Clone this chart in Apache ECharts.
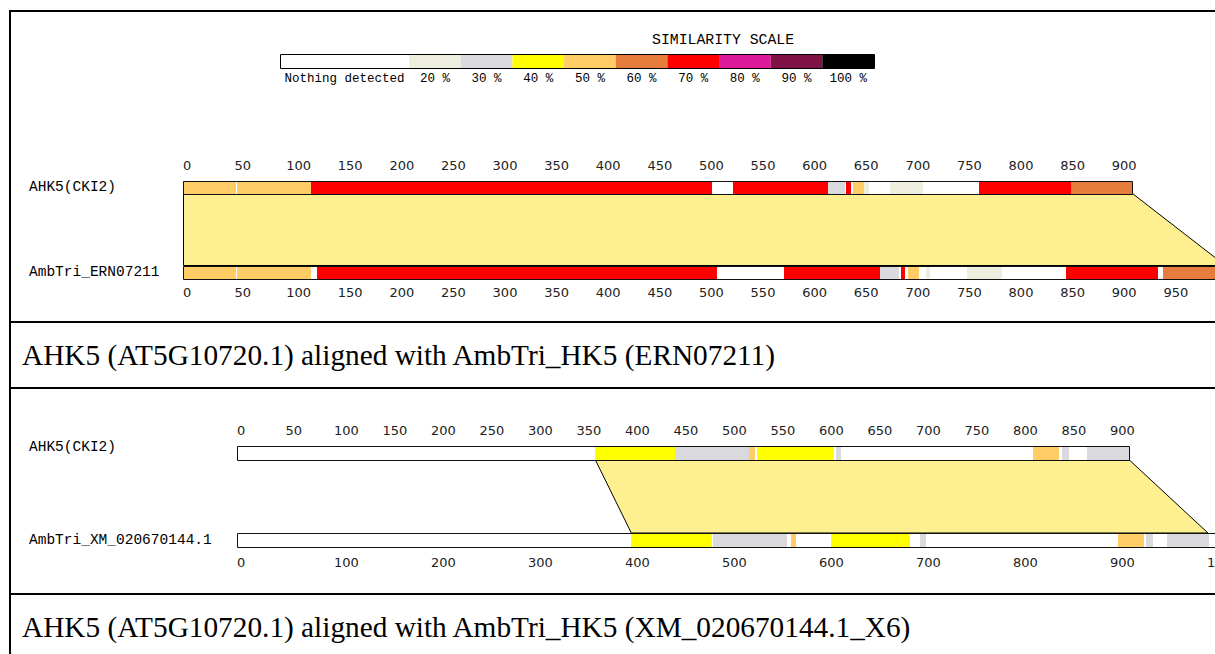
<!DOCTYPE html>
<html><head><meta charset="utf-8">
<script src="https://cdn.jsdelivr.net/npm/echarts@6/dist/echarts.min.js"></script>
<style>html,body{margin:0;padding:0;background:#fff}#c{width:1215px;height:654px}</style>
</head><body><div id="c"></div>
<script>
// ---- similarity scale ----
const scaleLabels = ['Nothing detected','20 %','30 %','40 %','50 %','60 %','70 %','80 %','90 %','100 %'];
const scaleSpans  = [2.5,1,1,1,1,1,1,1,1,1];
const scaleColors = ['#FFFFFF','#EEEEDF','#D9D9DE','#FFFF00','#FFCC66','#E77D3C','#FF0000','#DD1A99','#7F1346','#000000'];
const scaleTitle = 'SIMILARITY SCALE';

// ---- panel 1 : AHK5 vs ERN07211 ----
const p1Names   = ['AHK5(CKI2)','AmbTri_ERN07211'];
const p1Lengths = [920, 1012];
const p1Align   = [0, 920, 0, 1010];           // query start, query end, subject start, subject end
const p1Query   = [[0,51,4],[52,124.5,4],[124.5,513,6],[533,625.3,6],[625.3,641.5,2],[642,647,6],[649,660,4],[660,665,1],[685,717,1],[771.6,860,6],[860,920,5]];
const p1Subject = [[0,51,4],[52,124,4],[129.5,517.7,6],[582.7,675.4,6],[675.4,693.8,2],[695.4,700,6],[702.9,713.5,4],[720,724,1],[760,793.6,1],[856,944.5,6],[950,1012,5]];
const p1TickStep = [50, 50];

// ---- panel 2 : AHK5 vs XM_020670144.1 ----
const p2Names   = ['AHK5(CKI2)','AmbTri_XM_020670144.1'];
const p2Lengths = [920, 1020];
const p2Align   = [369, 920, 406, 1001];
const p2Query   = [[369,451.5,3],[451.5,528,2],[528,534,4],[536,615.5,3],[617.5,622.5,2],[820.8,847.4,4],[850.2,858,2],[876,920,2]];
const p2Subject = [[406,489.4,3],[491,566.7,2],[570.8,576.3,4],[612.4,693.8,3],[704,710,2],[908.6,935.4,4],[936.8,944.6,2],[958.4,1002.4,2]];
const p2TickStep = [50, 100];

const captions = ['AHK5 (AT5G10720.1) aligned with AmbTri_HK5 (ERN07211)',
                  'AHK5 (AT5G10720.1) aligned with AmbTri_HK5 (XM_020670144.1_X6)'];

// ---------------------------------------------------------------
const W = 1215;
const chart = echarts.init(document.getElementById('c'), null, {renderer:'svg'});
const MONO = 'Liberation Mono, DejaVu Sans Mono, monospace';
const TICKFONT = 'DejaVu Sans, Verdana, sans-serif';
const SERIF = 'Liberation Serif, Times New Roman, serif';

const panels = [
  {names:p1Names, lengths:p1Lengths, align:p1Align, q:p1Query, s:p1Subject, steps:p1TickStep,
   left:183, pxPer:1.032, top:187, height:85, half:6.5, marginTop:15, marginBottom:14, lift:0},
  {names:p2Names, lengths:p2Lengths, align:p2Align, q:p2Query, s:p2Subject, steps:p2TickStep,
   left:237, pxPer:0.970, top:453, height:87, half:7, marginTop:16, marginBottom:15.5, lift:12}
];

const grid = [{left:280, top:54, width:594, height:14, outerBoundsMode:'none', containLabel:false}];
const xAxis = [{gridIndex:0, type:'value', min:0, max:scaleSpans.reduce((a,b)=>a+b,0), show:false}];
const yAxis = [{gridIndex:0, type:'value', min:0, max:1, show:false}];
const series = [];

// legend scale
let acc = 0;
const scaleData = scaleSpans.map((w,i)=>{ const d=[acc, acc+w, i]; acc+=w; return d; });
const scaleTotal = acc;
series.push({
  type:'custom', xAxisIndex:0, yAxisIndex:0, encode:{x:[0,1]}, z:3,
  data:scaleData,
  renderItem:(params, api)=>{
    const i = api.value(2);
    const a = api.coord([api.value(0),1]), b = api.coord([api.value(1),0]);
    const kids = [
      {type:'rect', shape:{x:a[0], y:a[1], width:b[0]-a[0], height:b[1]-a[1]}, style:{fill:scaleColors[i], stroke:null}},
      {type:'text', style:{text:scaleLabels[i], x:(a[0]+b[0])/2, y:b[1]+11, align:'center', verticalAlign:'middle',
        textAlign:'center', textVerticalAlign:'middle', fontFamily:MONO, fontSize:12.5, fill:'#000'}}
    ];
    if (i === scaleLabels.length-1) {
      const s0 = api.coord([0,1]), s1 = api.coord([scaleTotal,0]);
      kids.push({type:'rect', shape:{x:Math.round(s0[0])+0.5, y:Math.round(s0[1])+0.5, width:Math.round(s1[0]-s0[0]), height:Math.round(s1[1]-s0[1])},
        style:{fill:'none', stroke:'#000', lineWidth:1}});
    }
    return {type:'group', children:kids};
  }
});

panels.forEach((p, pi)=>{
  const g = pi+1;
  const gridW = W - p.left;              // grid runs to the right edge of the page
  const axMax = gridW / p.pxPer;         // axis value at the right edge
  grid.push({left:p.left, top:p.top, width:gridW, height:p.height, outerBoundsMode:'none', containLabel:false});
  const xi = xAxis.length;
  [0,1].forEach(row=>{
    const step = p.steps[row];
    xAxis.push({gridIndex:g, type:'value', position: row===0?'top':'bottom', min:0, max:axMax, interval:step,
      axisLine:{show:false, onZero:false}, axisTick:{show:false}, splitLine:{show:false},
      axisLabel:{show:true, align:'left', margin: row===0?p.marginTop:p.marginBottom, color:'#222',
        fontFamily:TICKFONT, fontSize:13, showMaxLabel:true, showMinLabel:true, hideOverlap:false,
        formatter:(v)=> (v<=p.lengths[row] && Math.abs(v/step - Math.round(v/step))<1e-6) ? String(v) : ''}});
  });
  const yi = yAxis.length;
  yAxis.push({gridIndex:g, type:'category', data:p.names, inverse:true, boundaryGap:false,
    axisLine:{show:false}, axisTick:{show:false}, splitLine:{show:false},
    axisLabel:{interval:0, align:'left', margin:p.left-29, color:'#000', fontFamily:MONO, fontSize:14.5,
      formatter:(v, idx)=> (idx===0 && p.lift) ? '{up|'+v+'}' : v,
      rich:{up:{padding:[0,0,p.lift,0], fontFamily:MONO, fontSize:14.5, color:'#000'}}}});

  const half = p.half;
  // trapezoid (aligned region)
  series.push({type:'custom', xAxisIndex:xi, yAxisIndex:yi, encode:{x:[0,1,2,3], y:4}, z:1, clip:false,
    data:[[p.align[0], p.align[1], p.align[2], p.align[3], 0]],
    renderItem:(params, api)=>{
      const a = api.coord([api.value(0),0]), b = api.coord([api.value(1),0]);
      const c = api.coord([api.value(3),1]), d = api.coord([api.value(2),1]);
      return {type:'polygon', shape:{points:[[a[0]+0.5,a[1]+half],[b[0],b[1]+half],[c[0],c[1]-half],[d[0]+0.5,d[1]-half]]},
        style:{fill:'#FEEF90', stroke:'#000', lineWidth:1}};
    }});
  // track base (white)
  const baseData = p.lengths.map((L,row)=>[0, L, 0, row]);
  const rectFor = (api)=>{
    const r = api.value(3);
    const a = api.coord([api.value(0), r]), b = api.coord([api.value(1), r]);
    return {x:Math.round(a[0]), y:Math.round(a[1]-half), w:Math.round(b[0])-Math.round(a[0]), h:Math.round(2*half)};
  };
  series.push({type:'custom', xAxisIndex:xi, yAxisIndex:yi, encode:{x:[0,1], y:3}, z:2, clip:false, data:baseData,
    renderItem:(params, api)=>{ const r=rectFor(api);
      return {type:'rect', shape:{x:r.x, y:r.y, width:r.w, height:r.h}, style:{fill:'#fff', stroke:null}}; }});
  // similarity segments
  const segData = p.q.map(s=>[s[0], s[1], s[2], 0]).concat(p.s.map(s=>[s[0], s[1], s[2], 1]));
  series.push({type:'custom', xAxisIndex:xi, yAxisIndex:yi, encode:{x:[0,1], y:3}, z:3, clip:false, data:segData,
    renderItem:(params, api)=>{ const r=rectFor(api);
      return {type:'rect', shape:{x:r.x, y:r.y, width:r.w, height:r.h}, style:{fill:scaleColors[api.value(2)], stroke:null}}; }});
  // outline
  series.push({type:'custom', xAxisIndex:xi, yAxisIndex:yi, encode:{x:[0,1], y:3}, z:4, clip:false, data:baseData,
    renderItem:(params, api)=>{ const r=rectFor(api);
      return {type:'rect', shape:{x:r.x+0.5, y:r.y+0.5, width:r.w, height:r.h}, style:{fill:'none', stroke:'#111', lineWidth:1}}; }});
});

const lineStyle = {stroke:'#000', lineWidth:2};
const capStyle = {fontFamily:SERIF, fontSize:29.3, fontWeight:'normal', color:'#000', lineHeight:30};
const option = {
  animation:false,
  backgroundColor:'#fff',
  title:[
    {text:scaleTitle, left:652, top:32, padding:0, textStyle:{fontFamily:MONO, fontSize:14.8, fontWeight:'normal', color:'#000'}},
    {text:captions[0], left:22, top:340, padding:0, textStyle:capStyle},
    {text:captions[1], left:22, top:612, padding:0, textStyle:capStyle}
  ],
  grid, xAxis, yAxis, series,
  graphic:[
    {type:'line', shape:{x1:10, y1:10, x2:10, y2:654}, style:lineStyle, z:10},
    {type:'line', shape:{x1:9, y1:11, x2:1215, y2:11}, style:lineStyle, z:10},
    {type:'line', shape:{x1:9, y1:322, x2:1215, y2:322}, style:lineStyle, z:10},
    {type:'line', shape:{x1:9, y1:388, x2:1215, y2:388}, style:lineStyle, z:10},
    {type:'line', shape:{x1:9, y1:594, x2:1215, y2:594}, style:lineStyle, z:10}
  ]
};
chart.setOption(option);
</script>
</body></html>
